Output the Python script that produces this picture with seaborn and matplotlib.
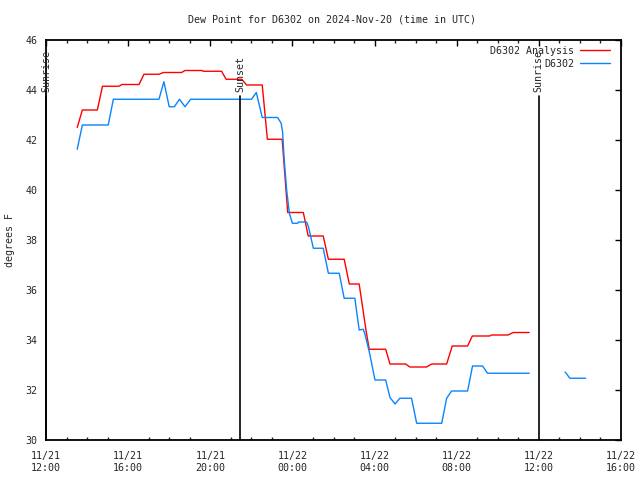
import numpy as np
import pandas as pd
import matplotlib
matplotlib.use("Agg")
import matplotlib.pyplot as plt
import seaborn as sns

# ---- data (hours after 11/21 12:00 UTC) ----
analysis_hours = [1.52, 1.77, 2.5, 2.75, 3.55, 3.7, 4.53, 4.77, 5.5, 5.72, 6.6, 6.77, 7.6, 7.65,
                  8.55, 8.77, 9.53, 9.77, 10.53, 10.78, 11.5, 11.77, 12.53, 12.77, 13.5, 13.75,
                  14.52, 14.77, 15.25, 15.58, 15.74, 16.54, 16.75, 17.51, 17.72, 18.53, 18.78,
                  19.51, 19.78, 20.53, 20.76, 21.6, 21.7, 22.5, 22.75, 23.53]
analysis_vals = [42.5, 43.2, 43.2, 44.15, 44.15, 44.22, 44.22, 44.63, 44.63, 44.7, 44.7, 44.78, 44.78, 44.75,
                 44.75, 44.43, 44.43, 44.2, 44.2, 42.03, 42.03, 39.1, 39.1, 38.16, 38.16, 37.23,
                 37.23, 36.24, 36.24, 34.4, 33.63, 33.63, 33.04, 33.04, 32.92, 32.92, 33.04,
                 33.04, 33.76, 33.76, 34.16, 34.16, 34.2, 34.2, 34.3, 34.3]

obs_hours_1 = [1.52, 1.77, 3.03, 3.28, 5.5, 5.74, 6.0, 6.25, 6.5, 6.77, 7.04, 10.01, 10.24, 10.53,
               11.28, 11.45, 11.52, 11.6, 11.72, 11.85, 12.0, 12.25, 12.3, 12.69, 12.78, 13.02,
               13.5, 13.75, 14.28, 14.52, 15.04, 15.25, 15.45, 15.52, 15.75, 16.02, 16.54, 16.75,
               17.0, 17.23, 17.8, 18.05, 19.27, 19.51, 19.75, 20.53, 20.77, 21.26, 21.5, 23.53]
obs_vals_1 = [41.63, 42.6, 42.6, 43.63, 43.63, 44.33, 43.33, 43.33, 43.63, 43.33, 43.63, 43.63, 43.9, 42.9,
              42.9, 42.67, 42.33, 41.2, 40.0, 39.07, 38.67, 38.67, 38.72, 38.72, 38.53, 37.67,
              37.67, 36.67, 36.67, 35.67, 35.67, 34.4, 34.43, 34.27, 33.5, 32.4, 32.4, 31.7,
              31.44, 31.67, 31.67, 30.67, 30.67, 31.67, 31.96, 31.96, 32.96, 32.96, 32.67, 32.67]
obs_hours_2 = [25.28, 25.51, 26.28]
obs_vals_2 = [32.72, 32.47, 32.47]

sun_events = ["Sunrise", "Sunset", "Sunrise"]
sun_hours = [0.02, 9.45, 24.0]

xtick_hours = [0, 4, 8, 12, 16, 20, 24, 28]
xtick_labels = ["11/21\n12:00", "11/21\n16:00", "11/21\n20:00", "11/22\n00:00",
                "11/22\n04:00", "11/22\n08:00", "11/22\n12:00", "11/22\n16:00"]
ytick_vals = [30, 32, 34, 36, 38, 40, 42, 44, 46]

sns.set_style("white")
plt.rcParams['font.family'] = ['DejaVu Sans Mono', 'DejaVu Sans']
FS = 7.2

fig = plt.figure(figsize=(6.4, 4.8), dpi=100)
ax = fig.add_axes([46/640, 40/480, 575/640, 400/480])

df_a = pd.DataFrame({"h": analysis_hours, "v": analysis_vals})
df_o1 = pd.DataFrame({"h": obs_hours_1, "v": obs_vals_1})
df_o2 = pd.DataFrame({"h": obs_hours_2, "v": obs_vals_2})

red = "#ff0000"
blue = "#0a84ff"
sns.lineplot(data=df_a, x="h", y="v", color=red, lw=1.0, ax=ax, label="D6302 Analysis",
             estimator=None, sort=False)
sns.lineplot(data=df_o1, x="h", y="v", color=blue, lw=1.0, ax=ax, label="D6302",
             estimator=None, sort=False)
sns.lineplot(data=df_o2, x="h", y="v", color=blue, lw=1.0, ax=ax, estimator=None, sort=False)

for name, h in zip(sun_events, sun_hours):
    ax.plot([h, h], [30, 43.75], color="black", lw=1.2, clip_on=False)
    ax.text(h, 43.92, name, rotation=90, ha="center", va="bottom", fontsize=FS)

ax.set_xlim(0, 28)
ax.set_ylim(30, 46)
ax.set_xticks(xtick_hours)
ax.set_xticklabels(xtick_labels, fontsize=FS)
ax.set_xticks(np.arange(0, 29, 1), minor=True)
ax.set_yticks(ytick_vals)
ax.set_yticklabels([str(v) for v in ytick_vals], fontsize=FS)
ax.tick_params(axis="both", which="major", direction="in", length=4, width=1,
               top=True, right=True, color="black")
ax.tick_params(axis="x", which="major", pad=8)
ax.tick_params(axis="y", which="major", pad=6)
ax.tick_params(axis="x", which="minor", direction="in", length=2, width=1, top=True, bottom=True)
ax.tick_params(axis="y", which="minor", left=False, right=False)
for s in ax.spines.values():
    s.set_color("black")
    s.set_linewidth(1.3)

ax.set_xlabel("")
ax.set_ylabel("degrees F", fontsize=FS)
ax.yaxis.set_label_coords(-(46 - 15) / 575, 0.5)
fig.text(332/640, 1 - 20/480, "Dew Point for D6302 on 2024-Nov-20 (time in UTC)",
         ha="center", va="center", fontsize=FS)

ax.legend(loc="upper right", bbox_to_anchor=(1 - 5/575, 1), frameon=False, markerfirst=False,
          fontsize=FS, handlelength=3.0, borderaxespad=0.2, labelspacing=0.3, handletextpad=0.6)

fig.savefig("out.png", dpi=100)
